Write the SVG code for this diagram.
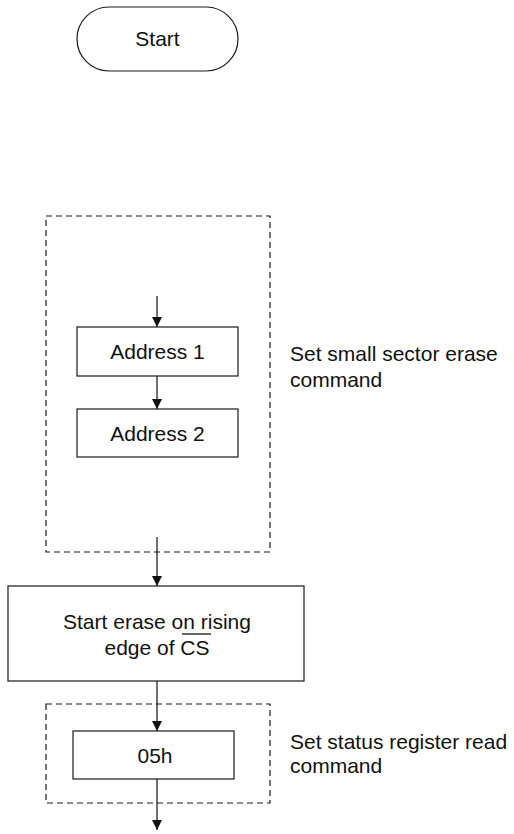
<svg xmlns="http://www.w3.org/2000/svg" width="514" height="834" viewBox="0 0 514 834">
  <style>
    .box { fill: #ffffff; stroke: #1a1a1a; stroke-width: 1.2; }
    .group { fill: none; stroke: #1a1a1a; stroke-width: 1.2; stroke-dasharray: 6 4; }
    .label { font-family: "Liberation Sans", Arial, sans-serif; font-size: 21px; fill: #111111; }
    .mid { text-anchor: middle; }
    .edge { stroke: #111111; stroke-width: 1.2; fill: none; marker-end: url(#arrow); }
  </style>
  <defs>
    <marker id="arrow" markerWidth="10" markerHeight="10" refX="10" refY="5" orient="auto" markerUnits="userSpaceOnUse">
      <path d="M0,0 L10,5 L0,10 Z" fill="#111111"/>
    </marker>
  </defs>
  <rect width="514" height="834" fill="#ffffff"/>

  <!-- command groupings -->
  <g id="sector-erase-group">
    <rect class="group" x="46" y="216" width="224" height="336"/>
    <text class="label" x="290" y="361">Set small sector erase</text>
    <text class="label" x="290" y="387">command</text>
  </g>
  <g id="status-read-group">
    <rect class="group" x="46" y="704" width="224" height="99"/>
    <text class="label" x="290" y="749">Set status register read</text>
    <text class="label" x="290" y="773">command</text>
  </g>

  <!-- connectors -->
  <g id="connectors">
    <line class="edge" x1="157" y1="296" x2="157" y2="327"/>
    <line class="edge" x1="157" y1="376" x2="157" y2="409"/>
    <line class="edge" x1="157" y1="537" x2="157" y2="586"/>
    <line class="edge" x1="157" y1="681" x2="157" y2="731"/>
    <line class="edge" x1="157" y1="779" x2="157" y2="830"/>
  </g>

  <!-- nodes -->
  <g id="start">
    <rect class="box" x="77" y="7" width="161" height="64" rx="32" ry="32"/>
    <text class="label mid" x="157.5" y="46">Start</text>
  </g>
  <g id="address1">
    <rect class="box" x="77" y="327" width="161" height="49"/>
    <text class="label mid" x="157.5" y="359">Address 1</text>
  </g>
  <g id="address2">
    <rect class="box" x="77" y="409" width="161" height="48"/>
    <text class="label mid" x="157.5" y="441">Address 2</text>
  </g>
  <g id="start-erase">
    <rect class="box" x="8" y="586" width="296" height="95"/>
    <text class="label mid" x="157" y="629">Start erase on rising</text>
    <text class="label mid" x="157" y="655">edge of CS</text>
    <line x1="182" y1="634" x2="211" y2="634" stroke="#111111" stroke-width="1.3"/>
  </g>
  <g id="cmd-05h">
    <rect class="box" x="73" y="731" width="161" height="48"/>
    <text class="label mid" x="155" y="763">05h</text>
  </g>
</svg>
